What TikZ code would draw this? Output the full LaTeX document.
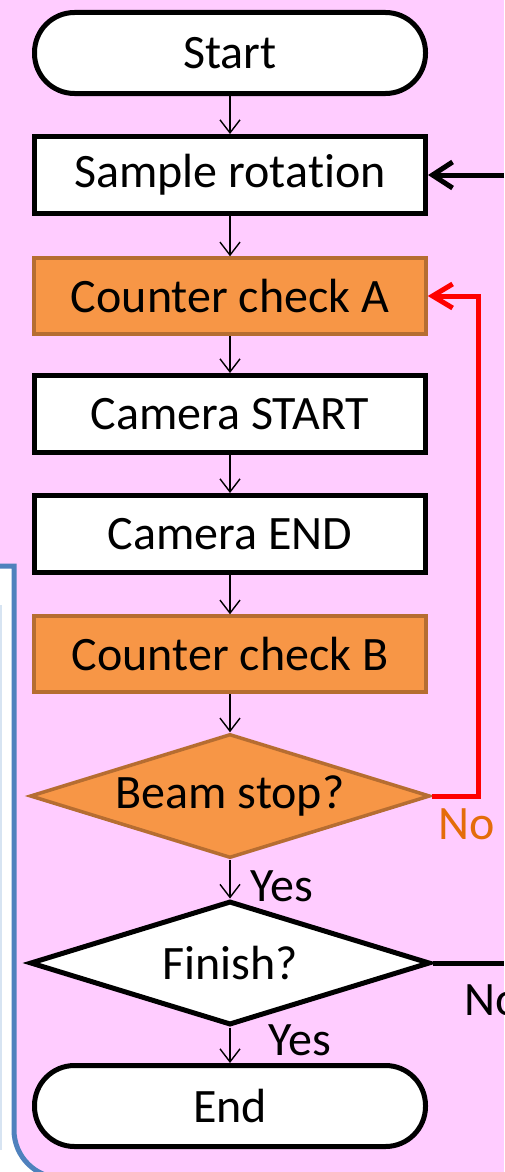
\documentclass[tikz,border=0pt]{standalone}
\usepackage{fontspec}
\setmainfont[Ligatures=NoCommon]{Carlito}
\usetikzlibrary{shapes.geometric,arrows.meta}
\definecolor{bgpink}{RGB}{255,204,255}
\definecolor{accblue}{RGB}{79,129,189}
\definecolor{boxorange}{RGB}{247,150,70}
\definecolor{orangeline}{RGB}{182,109,49}
\definecolor{notext}{RGB}{228,108,10}
\definecolor{faintblue}{RGB}{215,228,242}
\begin{document}
\begin{tikzpicture}[x=1pt,y=-1pt,
  every node/.style={font=\fontsize{48}{54}\selectfont, inner sep=0pt},
  procbox/.style={draw=black, line width=5pt, fill=white, minimum width=391pt, minimum height=77pt},
  orangebox/.style={draw=orangeline, line width=3.5pt, fill=boxorange, minimum width=392pt, minimum height=76pt},
  terminal/.style={draw=black, line width=5pt, fill=white, rounded corners=40pt, minimum width=391pt, minimum height=81pt},
  decision/.style={diamond, aspect=3.2, minimum width=400pt, minimum height=124pt},
  thinarrow/.style={draw=black, line width=1.4pt, -{Straight Barb[length=13pt,width=20pt]}},
  lbl/.style={anchor=west}
]
\clip (0,0) rectangle (504,1172);
\fill[bgpink] (0,0) rectangle (504,1172);
% left panel
\fill[white] (0,566) -- (14,566) -- (14,1130) arc[start angle=180,end angle=90,radius=48] -- (0,1178) -- cycle;
\draw[faintblue, line width=1.5pt] (1,605) -- (1,1150);
\draw[accblue, line width=5pt] (-5,566) -- (14,566) -- (14,1130) arc[start angle=180,end angle=90,radius=48] -- (90,1178);

\node[terminal] (start) at (230,53) {Start};
\node[procbox] (rot) at (230,175) {Sample rotation};
\node[orangebox] (cca) at (230,296) {Counter check A};
\node[procbox] (cams) at (230,414) {Camera START};
\node[procbox] (came) at (230,534) {Camera END};
\node[orangebox] (ccb) at (230,654) {Counter check B};
\node[decision, draw=orangeline, line width=3.5pt, fill=boxorange] (beam) at (230,796) {Beam stop?};
\node[decision, draw=black, line width=5pt, fill=white] (fin) at (230,963) {Finish?};
\node[terminal] (end) at (230,1106) {End};

\draw[thinarrow] (start) -- (rot);
\draw[thinarrow] (rot) -- (cca);
\draw[thinarrow] (cca) -- (cams);
\draw[thinarrow] (cams) -- (came);
\draw[thinarrow] (came) -- (ccb);
\draw[thinarrow] (ccb) -- (beam);
\draw[thinarrow] (beam.south) -- (fin.north);
\draw[thinarrow] (fin.south) -- (end.north);

\coordinate (inright) at (504,175);
\coordinate (outright) at (504,963);
\draw[line width=5pt, -{Straight Barb[length=20pt,width=26pt]}] (inright) -- (rot.east);
\draw[red, line width=5pt, -{Straight Barb[length=20pt,width=24pt]}] (beam.east) -- (478,796) |- (cca.east);
\draw[line width=5pt] (fin.east) -- (outright);

\node[text=notext] (no1) at (467,824) {No};
\node[lbl] (no2) at (464,1000) {No};
\node[lbl] (yes1) at (250,886) {Yes};
\node[lbl] (yes2) at (268,1040) {Yes};
\end{tikzpicture}
\end{document}
